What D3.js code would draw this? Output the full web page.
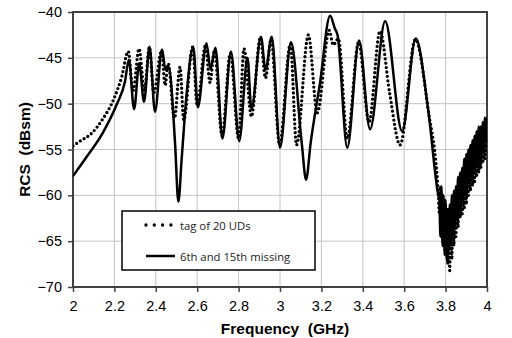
<!DOCTYPE html>
<html>
<head>
<meta charset="utf-8">
<script src="https://cdn.jsdelivr.net/npm/d3@7"></script>
<style>
  body { margin: 0; background: #fff; }
  svg { display: block; }
</style>
</head>
<body>
<svg id="chart" width="512" height="338"></svg>
<script>
// tag of 20 UDs (dotted)
const freqDotted = [2.0, 2.04, 2.082, 2.146, 2.195, 2.235, 2.267, 2.29, 2.319, 2.345, 2.369, 2.39, 2.428, 2.445, 2.46, 2.49, 2.517, 2.535,
  2.578, 2.6, 2.64, 2.662, 2.683, 2.72, 2.76, 2.8, 2.826, 2.862, 2.905, 2.93, 2.957, 2.998, 3.05, 3.08, 3.137, 3.18,
  3.238, 3.257, 3.282, 3.325, 3.38, 3.43, 3.483, 3.53, 3.58, 3.654, 3.716, 3.765,
  3.77, 3.775, 3.78, 3.785, 3.79, 3.795, 3.8, 3.805, 3.81, 3.815, 3.82, 3.825, 3.83, 3.835, 3.84, 3.845, 3.85, 3.855,
  3.86, 3.865, 3.87, 3.875, 3.88, 3.885, 3.89, 3.895, 3.9, 3.905, 3.91, 3.915, 3.92, 3.925, 3.93, 3.935, 3.94, 3.945,
  3.95, 3.955, 3.96, 3.965, 3.97, 3.975, 3.98, 3.985, 3.99, 3.995, 4.0];
const rcsDotted = [-54.6, -54.0, -53.4, -51.6, -49.6, -47.1, -44.3, -48.6, -44.0, -48.6, -43.8, -48.8, -44.2, -48.0, -45.6, -51.6, -46.0, -51.8,
  -43.8, -50.2, -43.6, -47.7, -44.2, -53.5, -44.5, -53.8, -44.0, -51.4, -42.8, -47.2, -43.0, -54.5, -43.5, -54.5, -42.5, -51.0,
  -42.0, -43.6, -42.9, -53.8, -43.3, -52.0, -42.1, -48.9, -54.5, -43.0, -50.7, -60.0,
  -62.0, -59.0, -64.5, -60.0, -65.5, -61.0, -66.5, -61.5, -67.5, -62.5, -68.2, -62.0, -67.0, -61.0, -65.5, -60.5, -64.5, -60.0,
  -63.5, -59.0, -62.5, -58.5, -62.0, -58.0, -61.5, -57.0, -61.0, -56.5, -60.0, -56.0, -59.5, -55.5, -59.0, -55.0, -58.5, -54.5,
  -58.0, -54.0, -57.5, -53.5, -57.0, -53.0, -56.5, -52.5, -56.0, -52.5, -55.5];

// 6th and 15th missing (solid)
const freqSolid = [2.0, 2.066, 2.146, 2.211, 2.251, 2.27, 2.295, 2.32, 2.343, 2.37, 2.396, 2.43, 2.447, 2.462, 2.493, 2.509, 2.525, 2.549,
  2.581, 2.603, 2.645, 2.664, 2.688, 2.722, 2.763, 2.803, 2.843, 2.862, 2.908, 2.93, 2.96, 3.0, 3.053, 3.105, 3.126, 3.148,
  3.193, 3.242, 3.265, 3.278, 3.325, 3.382, 3.435, 3.508, 3.59, 3.656, 3.716, 3.765,
  3.77, 3.775, 3.78, 3.785, 3.79, 3.795, 3.8, 3.805, 3.81, 3.815, 3.82, 3.825, 3.83, 3.835, 3.84, 3.845, 3.85, 3.855,
  3.86, 3.865, 3.87, 3.875, 3.88, 3.885, 3.89, 3.895, 3.9, 3.905, 3.91, 3.915, 3.92, 3.925, 3.93, 3.935, 3.94, 3.945,
  3.95, 3.955, 3.96, 3.965, 3.97, 3.975, 3.98, 3.985, 3.99, 3.995, 4.0];
const rcsSolid = [-57.9, -55.8, -53.1, -50.1, -47.6, -45.2, -50.6, -45.6, -49.8, -43.8, -50.9, -44.1, -46.3, -46.0, -54.3, -60.7, -56.0, -48.9,
  -43.8, -50.4, -43.4, -46.2, -43.9, -53.8, -44.3, -54.1, -45.0, -50.6, -42.7, -46.3, -42.7, -54.8, -43.3, -54.3, -58.3, -54.3,
  -47.8, -40.4, -41.8, -42.5, -54.8, -43.1, -52.8, -41.0, -53.0, -42.9, -50.7, -60.0,
  -60.5, -64.5, -59.0, -65.5, -60.0, -66.5, -60.5, -67.0, -61.5, -66.0, -61.0, -65.5, -60.0, -64.5, -59.5, -63.5, -59.0, -62.5,
  -58.0, -62.0, -57.5, -61.5, -57.0, -60.5, -56.0, -60.0, -55.5, -59.0, -55.0, -58.5, -54.5, -58.0, -54.0, -57.5, -53.5, -57.0,
  -53.0, -56.5, -52.5, -56.0, -52.5, -55.5, -52.0, -55.0, -51.5, -54.0, -51.5];

const xTicks = [2, 2.2, 2.4, 2.6, 2.8, 3, 3.2, 3.4, 3.6, 3.8, 4];
const yTicks = [-40, -45, -50, -55, -60, -65, -70];
const legendLabels = ["tag of 20 UDs", "6th and 15th missing"];

const width = 512, height = 338;
const margin = { top: 12, right: 25, bottom: 51, left: 73 };
const plotW = width - margin.left - margin.right;
const plotH = height - margin.top - margin.bottom;

const svg = d3.select("#chart");
const g = svg.append("g").attr("transform", `translate(${margin.left},${margin.top})`);

const x = d3.scaleLinear().domain([2, 4]).range([0, plotW]);
const y = d3.scaleLinear().domain([-70, -40]).range([plotH, 0]);

// gridlines
g.append("g").selectAll("line.vgrid")
  .data(xTicks.slice(1, -1))
  .enter().append("line")
  .attr("x1", d => x(d)).attr("x2", d => x(d))
  .attr("y1", 0).attr("y2", plotH)
  .attr("stroke", "#c4c4c4").attr("stroke-width", 1);

g.append("g").selectAll("line.hgrid")
  .data(yTicks.slice(1, -1))
  .enter().append("line")
  .attr("x1", 0).attr("x2", plotW)
  .attr("y1", d => y(d)).attr("y2", d => y(d))
  .attr("stroke", "#c4c4c4").attr("stroke-width", 1);

// axes
const xAxis = g.append("g")
  .attr("transform", `translate(0,${plotH})`)
  .call(d3.axisBottom(x).tickValues(xTicks).tickSize(5).tickPadding(9).tickFormat(d3.format("")));
const yAxis = g.append("g")
  .call(d3.axisLeft(y).tickValues(yTicks).tickSize(5).tickPadding(6).tickFormat(d3.format("")));

[xAxis, yAxis].forEach(ax => {
  ax.select(".domain").remove();
  ax.selectAll("line").attr("stroke", "#444").attr("stroke-width", 1.5);
  ax.selectAll("text")
    .attr("fill", "#000")
    .style("font-family", "'Liberation Sans', Arial, sans-serif")
    .style("font-size", "14.5px");
});

// plot frame
g.append("rect")
  .attr("x", 0).attr("y", 0)
  .attr("width", plotW).attr("height", plotH)
  .attr("fill", "none")
  .attr("stroke", "#404040")
  .attr("stroke-width", 2);

svg.append("defs").append("clipPath").attr("id", "plotClip")
  .append("rect").attr("width", plotW).attr("height", plotH);

const line = d3.line()
  .x(d => x(d[0]))
  .y(d => y(d[1]))
  .curve(d3.curveMonotoneX);

const dottedData = freqDotted.map((f, i) => [f, rcsDotted[i]]);
const solidData = freqSolid.map((f, i) => [f, rcsSolid[i]]);

const curves = g.append("g").attr("clip-path", "url(#plotClip)");

curves.append("path")
  .datum(dottedData)
  .attr("d", line)
  .attr("fill", "none")
  .attr("stroke", "#000")
  .attr("stroke-width", 3.3)
  .attr("stroke-linecap", "round")
  .attr("stroke-dasharray", "0,4.4");

curves.append("path")
  .datum(solidData)
  .attr("d", line)
  .attr("fill", "none")
  .attr("stroke", "#000")
  .attr("stroke-width", 2.5)
  .attr("stroke-linejoin", "round");

// axis titles
svg.append("text")
  .attr("transform", `translate(24,${margin.top + plotH / 2}) rotate(-90)`)
  .attr("text-anchor", "middle")
  .attr("dominant-baseline", "central")
  .style("font-family", "'Liberation Sans', Arial, sans-serif")
  .style("font-size", "15.5px")
  .style("font-weight", "bold")
  .style("white-space", "pre")
  .text("RCS  (dBsm)");

svg.append("text")
  .attr("x", 285)
  .attr("y", 328)
  .attr("text-anchor", "middle")
  .attr("dominant-baseline", "central")
  .style("font-family", "'Liberation Sans', Arial, sans-serif")
  .style("font-size", "15.5px")
  .style("font-weight", "bold")
  .style("white-space", "pre")
  .text("Frequency  (GHz)");

// legend
const legend = svg.append("g").attr("transform", "translate(122,211)");
legend.append("rect")
  .attr("width", 193).attr("height", 59)
  .attr("fill", "#fff")
  .attr("stroke", "#000")
  .attr("stroke-width", 1.5);

const legendRows = legend.selectAll("g.row")
  .data(legendLabels)
  .enter().append("g")
  .attr("transform", (d, i) => `translate(0,${i === 0 ? 14 : 45})`);

legendRows.append("line")
  .attr("x1", 24)
  .attr("x2", (d, i) => i === 0 ? 49 : 53)
  .attr("y1", 0).attr("y2", 0)
  .attr("stroke", "#000")
  .attr("stroke-width", (d, i) => i === 0 ? 3.3 : 2.5)
  .attr("stroke-linecap", (d, i) => i === 0 ? "round" : "butt")
  .attr("stroke-dasharray", (d, i) => i === 0 ? "0,8.3" : null);

legendRows.append("text")
  .attr("x", 58)
  .attr("y", 0)
  .attr("dominant-baseline", "central")
  .attr("fill", "#222")
  .style("font-family", "'Open Sans', sans-serif")
  .style("font-size", "11.3px")
  .text(d => d);
</script>
</body>
</html>
